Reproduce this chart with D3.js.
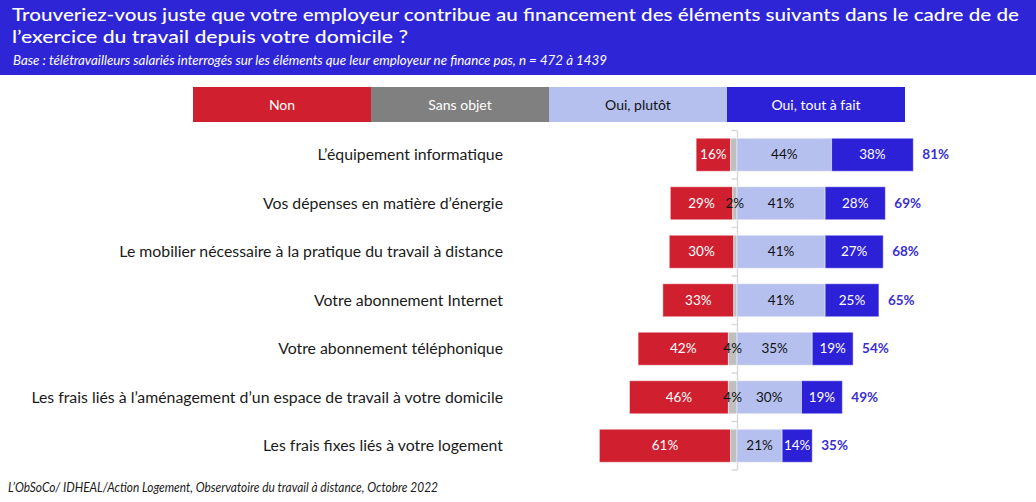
<!DOCTYPE html>
<html><head><meta charset="utf-8">
<script src="https://cdn.jsdelivr.net/npm/d3@7"></script>
<style>body{margin:0;background:#fff}svg{display:block}text{font-family:Lato,"Noto Sans",sans-serif}</style>
</head><body>
<script>
const titleLines = ["Trouveriez-vous juste que votre employeur contribue au financement des éléments suivants dans le cadre de de", "l’exercice du travail depuis votre domicile ?"];
const subtitle = "Base  : télétravailleurs salariés interrogés sur les éléments que leur employeur ne finance pas, n = 472 à 1439";
const source = "L’ObSoCo/ IDHEAL/Action Logement, Observatoire du travail à distance, Octobre 2022";
const legendLabels = ["Non", "Sans objet", "Oui, plutôt", "Oui, tout à fait"];
const categories = ["L’équipement informatique", "Vos dépenses en matière d’énergie", "Le mobilier nécessaire à la pratique du travail à distance", "Votre abonnement Internet", "Votre abonnement téléphonique", "Les frais liés à l’aménagement d’un espace de travail à votre domicile", "Les frais fixes liés à votre logement"];
const non = [16, 29, 30, 33, 42, 46, 61];
const sansObjet = [3, 2, 1.5, 1.5, 4, 4, 3];
const sansObjetShown = [false, true, false, false, true, true, false];
const ouiPlutot = [44, 41, 41, 41, 35, 30, 21];
const ouiTout = [38, 28, 27, 25, 19, 19, 14];
const totals = [81, 69, 68, 65, 54, 49, 35];

const W = 1036, H = 502;
const colors = {non: "#d0202f", sans: "#808080", sansBar: "#bfbfbf", plutot: "#b5c0ef", tout: "#2d21d8", header: "#2e25d6", total: "#3a2fd2"};
const svg = d3.select("body").append("svg").attr("width", W).attr("height", H);

function fit(sel, target) {
  const n = sel.node();
  const fs = parseFloat(sel.attr("font-size"));
  const len = n.getComputedTextLength();
  sel.attr("font-size", (fs * target / len).toFixed(2));
}
function squeeze(sel, target) {
  sel.attr("textLength", target).attr("lengthAdjust", "spacingAndGlyphs");
}

// header
svg.append("rect").attr("x", 0).attr("y", 0).attr("width", W).attr("height", 75).attr("fill", colors.header);
const t1 = svg.append("text").attr("x", 12).attr("y", 21).attr("fill", "#fff").attr("font-size", 18).attr("font-weight", 500).text(titleLines[0]);
squeeze(t1, 1007);
const t2 = svg.append("text").attr("x", 12).attr("y", 43).attr("fill", "#fff").attr("font-size", 18).attr("font-weight", 500).text(titleLines[1]);
squeeze(t2, 396);
const st = svg.append("text").attr("x", 13).attr("y", 65).attr("fill", "#fff").attr("font-size", 13.5).attr("font-style", "italic").text(subtitle);
squeeze(st, 594);

// legend
const lx = d3.scaleBand().domain(legendLabels).range([193, 905]);
const legCols = [colors.non, colors.sans, colors.plutot, colors.tout];
const legTxt = ["#fff", "#fff", "#111", "#fff"];
const lg = svg.append("g");
lg.selectAll("rect").data(legendLabels).join("rect")
  .attr("x", d => lx(d)).attr("y", 87).attr("width", lx.bandwidth()).attr("height", 35)
  .attr("fill", (d, i) => legCols[i]);
lg.selectAll("text").data(legendLabels).join("text")
  .attr("x", d => lx(d) + lx.bandwidth() / 2).attr("y", 105).attr("dy", "0.35em")
  .attr("text-anchor", "middle").attr("font-size", 14).attr("fill", (d, i) => legTxt[i]).text(d => d);

// scales
const x = d3.scaleLinear().domain([-65, 85]).range([737 - 65 * 2.15, 737 + 85 * 2.15]);
const y = d3.scaleBand().domain(categories).range([130.5, 470]).padding(0);
const bh = 33;
const cy = d => y(d) + y.bandwidth() / 2;

// axis
const axisG = svg.append("g");
axisG.append("line").attr("x1", x(0) + 0.5).attr("x2", x(0) + 0.5).attr("y1", 130.5).attr("y2", 470).attr("stroke", "#d9d9d9").attr("stroke-width", 1.5);
const tickPos = categories.map(c => y(c)).concat([y.range()[1]]);
axisG.selectAll("line.tk").data(tickPos).join("line").attr("class", "tk")
  .attr("x1", x(0) - 5.5).attr("x2", x(0)).attr("y1", d => d).attr("y2", d => d)
  .attr("stroke", "#d9d9d9").attr("stroke-width", 1.5);

// rows
const rows = categories.map((c, i) => ({c, i}));
const g = svg.append("g");
function seg(x0, x1, fill, c) {
  g.append("rect").attr("x", Math.min(x0, x1)).attr("y", cy(c) - bh / 2).attr("width", Math.abs(x1 - x0)).attr("height", bh)
    .attr("fill", fill).attr("stroke", "#fff").attr("stroke-opacity", 0.45).attr("stroke-width", 1);
}
function lab(xc, c, txt, fill, weight, anchor) {
  g.append("text").attr("x", xc).attr("y", cy(c)).attr("dy", "0.35em").attr("text-anchor", anchor || "middle")
    .attr("font-size", 13.5).attr("font-weight", weight || 400).attr("fill", fill).text(txt);
}
rows.forEach(({c, i}) => {
  const s = sansObjet[i], n = non[i], p = ouiPlutot[i], t = ouiTout[i];
  seg(x(-s - n), x(-s), colors.non, c);
  seg(x(-s), x(0), colors.sansBar, c);
  seg(x(0), x(p), colors.plutot, c);
  seg(x(p), x(p + t), colors.tout, c);
  lab((x(-s - n) + x(-s)) / 2, c, n + "%", "#fff");
  if (sansObjetShown[i]) lab((x(-s) + x(0)) / 2, c, s + "%", "#111");
  lab((x(0) + x(p)) / 2, c, p + "%", "#111");
  lab((x(p) + x(p + t)) / 2, c, t + "%", "#fff");
  lab(x(p + t) + 9, c, totals[i] + "%", colors.total, 700, "start");
});

// category labels
const cl = svg.append("g").selectAll("text").data(categories).join("text")
  .attr("x", 503).attr("y", d => cy(d)).attr("dy", "0.35em").attr("text-anchor", "end")
  .attr("font-size", 15).attr("fill", "#1a1a1a").text(d => d);
const longest = cl.filter((d, i) => i === 5);
fit(longest, 472);
cl.attr("font-size", longest.attr("font-size"));

// source
const src = svg.append("text").attr("x", 8).attr("y", 492).attr("font-size", 13).attr("font-style", "italic").attr("fill", "#1a1a1a").text(source);
squeeze(src, 430);
</script>
</body></html>
